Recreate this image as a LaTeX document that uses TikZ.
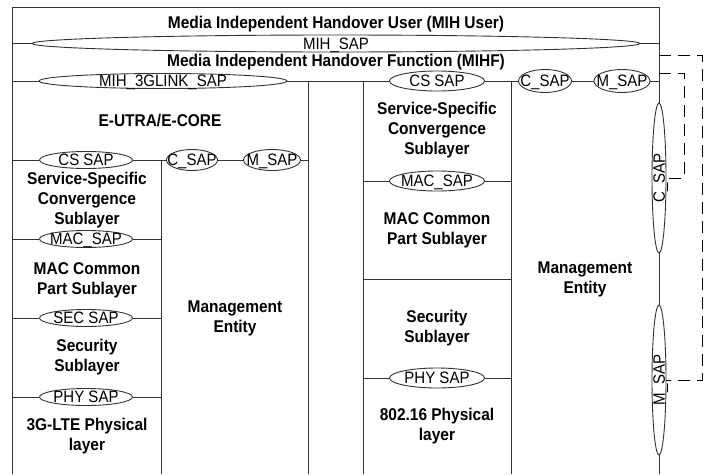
\documentclass[tikz,border=0pt]{standalone}
\usepackage{fontspec}
\setmainfont{Liberation Sans}
\newfontfamily\narrowsans[FakeStretch=0.91]{Liberation Sans}
\usepackage{graphicx}
\usetikzlibrary{shapes.geometric}

\begin{document}
\begin{tikzpicture}[x=1pt,y=-1pt,
  rule/.style={line width=0.9pt, draw=black!80},
  sap/.style={ellipse, draw=black!80, line width=0.9pt, inner sep=0pt, fill=white},
  saplbl/.style={font=\narrowsans\fontsize{16.5}{18}\selectfont, inner sep=0pt, text height=11.5pt, text depth=0pt},
  hdr/.style={font=\narrowsans\fontsize{17}{20}\selectfont\bfseries, align=center, inner sep=0pt},
  link/.style={line width=1pt, dash pattern=on 12pt off 7pt}
]
\useasboundingbox (0,0) rectangle (712,474);

% ---- MIH user and the MIH_SAP ----
\node[hdr] (user) at (336,24) {Media Independent Handover User (MIH User)};
\node[sap, minimum width=608pt, minimum height=17pt,
      label={[saplbl]center:MIH\_SAP}] (mihsap) at (336,43.5) {};
\draw[rule] (12,43.5) -- (mihsap.west) (mihsap.east) -- (659,43.5);

\node[hdr] (mihf) at (336,62) {Media Independent Handover Function (MIHF)};

% ---- row of SAPs under the MIHF ----
\node[sap, minimum width=248pt, minimum height=15pt,
      label={[saplbl]center:MIH\_3GLINK\_SAP}] (glink) at (163,81) {};
\node[sap, minimum width=95pt, minimum height=20pt,
      label={[saplbl]center:CS SAP}] (csR) at (437,81) {};
\node[sap, minimum width=53pt, minimum height=23pt,
      label={[saplbl]center:C\_SAP}] (cR) at (545,81) {};
\node[sap, minimum width=56pt, minimum height=23pt,
      label={[saplbl]center:M\_SAP}] (mR) at (622,81) {};
\draw[rule] (12,81) -- (glink.west) (glink.east) -- (csR.west)
            (csR.east) -- (cR.west) (cR.east) -- (mR.west) (mR.east) -- (659,81);

% ---- vertical SAPs on the right edge ----
\node[sap, minimum width=14pt, minimum height=150pt,
      label={[saplbl, rotate=90]center:C\_SAP}] (csV) at (659,178) {};
\node[sap, minimum width=14pt, minimum height=150pt,
      label={[saplbl, rotate=90]center:M\_SAP}] (mV) at (659,380) {};

% ---- frame and column rules ----
\draw[rule] (12,474) -- (12,7) -- (659,7) -- (csV.north);
\draw[rule] (csV.south) -- (mV.north) (mV.south) -- (659,474);
\draw[rule] (308,81) -- (308,474);
\draw[rule] (363,81) -- (363,474);
\draw[rule] (511,81) -- (511,474);
\draw[rule] (161,160) -- (161,474);

% ---- E-UTRA / E-CORE stack ----
\node[hdr] (eutra) at (160,121) {E-UTRA/E-CORE};

\node[sap, minimum width=93pt, minimum height=17pt,
      label={[saplbl]center:CS SAP}] (csL) at (86,160) {};
\node[sap, minimum width=51pt, minimum height=21pt,
      label={[saplbl]center:C\_SAP}] (cL) at (192,160) {};
\node[sap, minimum width=57pt, minimum height=21pt,
      label={[saplbl]center:M\_SAP}] (mL) at (272,160) {};
\draw[rule] (12,160) -- (csL.west) (csL.east) -- (cL.west)
            (cL.east) -- (mL.west) (mL.east) -- (308,160);

\node[hdr] (ssL) at (87,200) {Service-Specific\\Convergence\\Sublayer};

\node[sap, minimum width=93pt, minimum height=17pt,
      label={[saplbl]center:MAC\_SAP}] (macL) at (86,239) {};
\draw[rule] (12,239) -- (macL.west) (macL.east) -- (161,239);
\node[hdr] (mcpL) at (87,280) {MAC Common\\Part Sublayer};

\node[sap, minimum width=93pt, minimum height=17pt,
      label={[saplbl]center:SEC SAP}] (secL) at (86,318) {};
\draw[rule] (12,318) -- (secL.west) (secL.east) -- (161,318);
\node[hdr] (secsubL) at (87,357) {Security\\Sublayer};

\node[sap, minimum width=93pt, minimum height=17pt,
      label={[saplbl]center:PHY SAP}] (phyL) at (86,397) {};
\draw[rule] (12,397) -- (phyL.west) (phyL.east) -- (161,397);
\node[hdr] (lte) at (87,436) {3G-LTE Physical\\layer};

\node[hdr] (mgmtL) at (235,318) {Management\\Entity};

% ---- 802.16 stack ----
\node[hdr] (ssR) at (437,130) {Service-Specific\\Convergence\\Sublayer};

\node[sap, minimum width=95pt, minimum height=20pt,
      label={[saplbl]center:MAC\_SAP}] (macR) at (437,181) {};
\draw[rule] (363,181) -- (macR.west) (macR.east) -- (511,181);
\node[hdr] (mcpR) at (437,230) {MAC Common\\Part Sublayer};

\draw[rule] (363,279) -- (511,279);
\node[hdr] (secsubR) at (437,328) {Security\\Sublayer};

\node[sap, minimum width=95pt, minimum height=20pt,
      label={[saplbl]center:PHY SAP}] (phyR) at (437,378) {};
\draw[rule] (363,378) -- (phyR.west) (phyR.east) -- (511,378);
\node[hdr] (w80216) at (437,426) {802.16 Physical\\layer};

\node[hdr] (mgmtR) at (585,279) {Management\\Entity};

% ---- dashed links from the MIHF to the vertical SAPs ----
\coordinate (outerStart) at (659,55);
\coordinate (innerStart) at (659,73);
\draw[link] (outerStart) -- (702,55) |- (mV.east);
\draw[link] (innerStart) -- (684,73) |- (csV.east);
\end{tikzpicture}
\end{document}
